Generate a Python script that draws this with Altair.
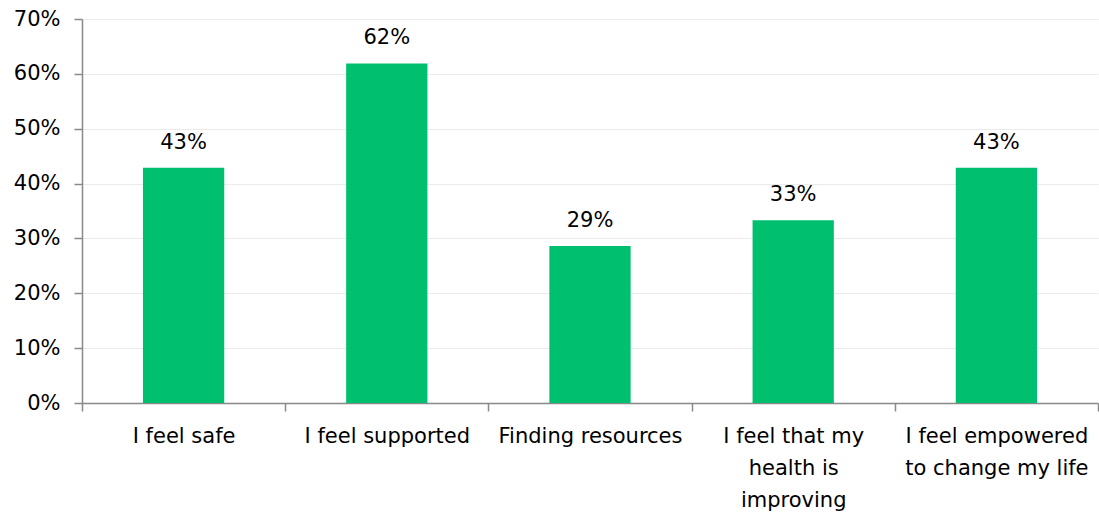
import altair as alt
import pandas as pd

categories = ["I feel safe", "I feel supported", "Finding resources",
              "I feel that my health is improving", "I feel empowered to change my life"]
values = [0.429, 0.619, 0.286, 0.333, 0.429]
wrapped = [["I feel safe"], ["I feel supported"], ["Finding resources"],
           ["I feel that my", "health is", "improving"],
           ["I feel empowered", "to change my life"]]

df = pd.DataFrame({"cat": categories, "val": values})

expr = "datum.label"
for c, w in zip(categories, wrapped):
    arr = "[" + ",".join("'" + s + "'" for s in w) + "]"
    expr = f"datum.value == '{c}' ? {arr} : (" + expr + ")"

FONT = "DejaVu Sans"
FS = 21
AX = "#898989"

x = alt.X("cat:N", sort=categories, title=None,
          scale=alt.Scale(paddingInner=0, paddingOuter=0),
          axis=alt.Axis(labelAngle=0, tickBand="extent", labelExpr=expr,
                        labelFont=FONT, labelFontSize=FS, labelColor="#000000",
                        labelLimit=0, labelLineHeight=32, labelPadding=14,
                        domainColor=AX, tickColor=AX, tickSize=8,
                        domainWidth=1.5, tickWidth=1.5, grid=False))
y = alt.Y("val:Q", title=None,
          scale=alt.Scale(domain=[0, 0.7], nice=False),
          axis=alt.Axis(format=".0%", values=[0, 0.1, 0.2, 0.3, 0.4, 0.5, 0.6, 0.7],
                        labelFont=FONT, labelFontSize=FS, labelColor="#000000",
                        labelPadding=14, tickSize=8, domainColor=AX, tickColor=AX,
                        domainWidth=1.5, tickWidth=1.5,
                        gridColor="#ebebeb", gridWidth=1.2))

bars = alt.Chart(df).mark_bar(color="#00BF6F", width=alt.RelativeBandSize(0.4)).encode(x=x, y=y)
labels = alt.Chart(df).mark_text(font=FONT, fontSize=FS, color="#000000",
                                 baseline="alphabetic", dy=-19).encode(
    x=alt.X("cat:N", sort=categories), y="val:Q", text=alt.Text("val:Q", format=".0%"))

chart = (bars + labels).properties(
    width=1016, height=384,
    autosize=alt.AutoSizeParams(type="none"),
    padding={"left": 82, "top": 19, "right": 1, "bottom": 113},
    background="white",
).configure_view(stroke=None)

chart.save("out.html", embed_options={"renderer": "svg", "actions": False})
